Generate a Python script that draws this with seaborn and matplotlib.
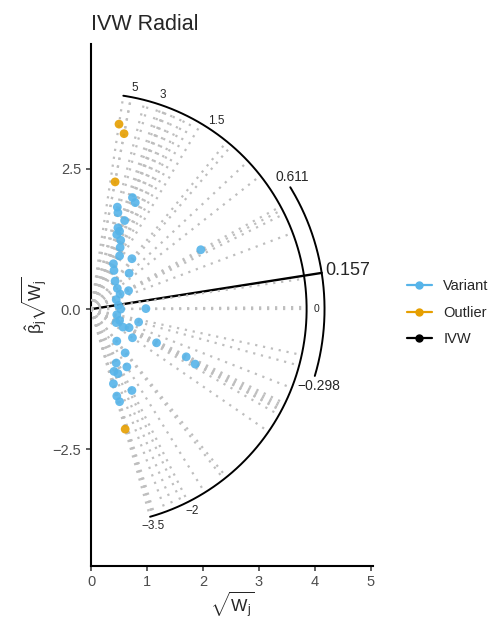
import numpy as np
import pandas as pd
import seaborn as sns
import matplotlib.pyplot as plt
from matplotlib.lines import Line2D

# Radial MR data: x = sqrt(W_j), y = beta_j * sqrt(W_j)
x_variant = [0.74, 0.79, 0.47, 0.48, 0.60, 0.48, 0.51, 0.46, 0.53, 0.51,
             0.73, 0.40, 0.41, 0.68, 1.96, 0.47, 0.67, 0.52, 0.45, 0.49,
             0.53, 0.98, 0.46, 0.51, 0.45, 0.85, 0.57, 0.68, 0.74, 1.17,
             0.46, 0.61, 0.45, 0.64, 1.70, 1.86, 0.41, 0.48, 0.40, 0.73,
             0.46, 0.51, 0.52, 0.43]
y_variant = [1.99, 1.90, 1.82, 1.72, 1.58, 1.45, 1.39, 1.33, 1.23, 0.95,
             0.90, 0.81, 0.69, 0.64, 1.06, 0.37, 0.33, 0.27, 0.17, 0.07,
             0.00, 0.01, -0.10, -0.20, -0.24, -0.23, -0.32, -0.33, -0.51, -0.60,
             -0.57, -0.78, -0.96, -1.03, -0.85, -0.98, -1.11, -1.15, -1.33, -1.45,
             -1.55, -1.65, 1.10, 0.50]
x_outlier = [0.50, 0.59, 0.43, 0.61]
y_outlier = [3.30, 3.13, 2.27, -2.14]

ivw_est = 0.157
ivw_lower = -0.298
ivw_upper = 0.611
scale_labels = [5, 3, 1.5, 0, -2, -3.5]

r_scale = 3.85
r_ivw = 4.17
r_lab = 4.03

df = pd.DataFrame({
    "x": x_variant + x_outlier,
    "y": y_variant + y_outlier,
    "group": ["Variant"] * len(x_variant) + ["Outlier"] * len(x_outlier),
})
ratio = df["y"] / df["x"]
ang = np.arctan(ratio)

sns.set_style("ticks")
plt.rcParams["font.family"] = ["Liberation Sans", "DejaVu Sans"]
plt.rcParams["mathtext.fontset"] = "custom"
plt.rcParams["mathtext.rm"] = "Liberation Sans"
plt.rcParams["mathtext.it"] = "Liberation Sans"
plt.rcParams["mathtext.default"] = "regular"

fig = plt.figure(figsize=(4.92, 6.23), dpi=100)
ax = fig.add_axes([0.185, 0.092, 0.5725, 0.837])

grey = "#BEBEBE"
# IVW line
ax.plot([0, r_ivw * np.cos(np.arctan(ivw_est))], [0, r_ivw * np.sin(np.arctan(ivw_est))],
        color="black", lw=1.7, zorder=2)

# dotted ratio lines for each variant
for a in ang:
    ax.plot([0, r_scale * np.cos(a)], [0, r_scale * np.sin(a)], color=grey,
            lw=1.6, dashes=(1.0, 2.6), zorder=3)

# inner scale arc
t = np.linspace(ang.min(), ang.max(), 200)
ax.plot(r_scale * np.cos(t), r_scale * np.sin(t), color="black", lw=1.4, zorder=2)
for v in scale_labels:
    a = np.arctan(v)
    ax.text(r_lab * np.cos(a), r_lab * np.sin(a), f"{v:g}".replace("-", "\u2212"),
            fontsize=8.5 if v != 0 else 7.5, ha="center", va="center", zorder=5)

# IVW CI arc
t2 = np.linspace(np.arctan(ivw_lower), np.arctan(ivw_upper), 200)
ax.plot(r_ivw * np.cos(t2), r_ivw * np.sin(t2), color="black", lw=1.4, zorder=2)
a = np.arctan(ivw_upper)
ax.text(r_ivw * np.cos(a) + 0.03, r_ivw * np.sin(a) + 0.06, f"{ivw_upper:g}",
        fontsize=10, ha="center", va="bottom")
a = np.arctan(ivw_lower)
ax.text(r_ivw * np.cos(a) + 0.08, r_ivw * np.sin(a) - 0.05,
        f"{ivw_lower:g}".replace("-", "\u2212"), fontsize=10, ha="center", va="top")
a = np.arctan(ivw_est)
ax.text(r_ivw * np.cos(a) + 0.06, r_ivw * np.sin(a) + 0.04, f"{ivw_est:g}",
        fontsize=13, ha="left", va="center")

sns.scatterplot(data=df, x="x", y="y", hue="group", ax=ax, s=40, linewidth=0,
                palette={"Variant": "#56B4E9", "Outlier": "#E69F00"},
                alpha=0.9, zorder=4, legend=False)

ax.set_xlim(0, 5.03)
ax.set_ylim(-4.575, 4.725)
ax.set_xticks([0, 1, 2, 3, 4, 5])
ax.set_yticks([-2.5, 0, 2.5])
ax.set_yticklabels(["\u22122.5", "0.0", "2.5"])
ax.tick_params(labelcolor="#4D4D4D", labelsize=10.5, length=3.5, width=1.1, color="#333333")
for s in ["left", "bottom"]:
    ax.spines[s].set_linewidth(1.5)
    ax.spines[s].set_color("black")
sns.despine(ax=ax)
ax.set_xlabel(r"$\sqrt{W_j}$", fontsize=12.5, labelpad=0)
ax.set_ylabel(r"$\hat{\beta}_j\sqrt{W_j}$", fontsize=12.5, labelpad=2)
ax.set_title("IVW Radial", fontsize=15.5, loc="left", pad=10)

handles = [Line2D([0], [0], color=c, marker="o", markersize=5, lw=1.6)
           for c in ["#56B4E9", "#E69F00", "black"]]
fig.legend(handles, ["Variant", "Outlier", "IVW"], loc="center left",
           bbox_to_anchor=(0.80, 0.498), frameon=False, fontsize=10.5,
           handlelength=1.7, handletextpad=0.8, labelspacing=0.85)

fig.savefig("out.png", dpi=100)
